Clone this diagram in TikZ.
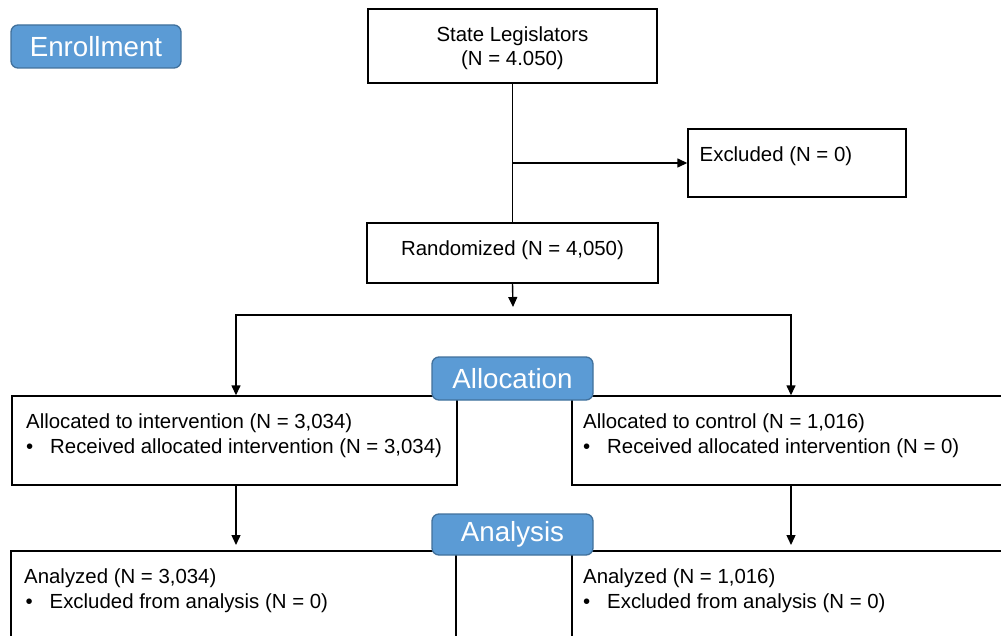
\documentclass[tikz,border=0pt]{standalone}
\usepackage{fontspec}
\setmainfont{Liberation Sans}
\usetikzlibrary{arrows.meta,calc}
\definecolor{badgefill}{HTML}{5B9BD5}
\definecolor{badgeline}{HTML}{41719C}
\begin{document}
\begin{tikzpicture}[x=1pt,y=-1pt,
  box/.style={draw=black, line width=1.4pt, inner sep=0pt},
  badge/.style={draw=badgeline, fill=badgefill, line width=1.3pt, rounded corners=7pt, text=white, font=\fontsize{27.7}{32}\selectfont, inner sep=0pt},
  txt/.style={font=\fontsize{20.4}{24}\selectfont, inner sep=0pt, text=black},
  arr/.style={line width=1.4pt, -{Triangle[length=10pt,width=9pt]}},
  ln/.style={line width=1.4pt}]
\clip (0,0) rectangle (1001,636);
\fill[white] (0,0) rectangle (1001,636);
% boxes
\node[box, minimum width=289pt, minimum height=74pt] (st) at (512.5,46) {};
\node[box, minimum width=218pt, minimum height=68pt] (ex) at (797,163) {};
\node[box, minimum width=291pt, minimum height=60pt] (rd) at (512.5,253) {};
\node[box, minimum width=445pt, minimum height=89pt] (aL) at (234.5,440.5) {};
\node[box, minimum width=460pt, minimum height=89pt] (aR) at (802,440.5) {};
\node[box, minimum width=445pt, minimum height=110pt] (nL) at (233.5,606) {};
\node[box, minimum width=460pt, minimum height=110pt] (nR) at (802,606) {};
% texts
\node[txt, anchor=base] (t1) at (512.5,42) {State Legislators};
\node[txt, anchor=base] (t2) at (512.5,66) {(N = 4.050)};
\node[txt, anchor=base west] (t3) at (699.5,162) {Excluded (N = 0)};
\node[txt, anchor=base] (t4) at (512.5,256) {Randomized (N = 4,050)};
\node[txt, anchor=base west] (t5) at (26,428) {Allocated to intervention (N = 3,034)};
\node[txt, anchor=base west] (t6) at (26,453) {\makebox[24pt][l]{•}Received allocated intervention (N = 3,034)};
\node[txt, anchor=base west] (t7) at (583,428) {Allocated to control (N = 1,016)};
\node[txt, anchor=base west] (t8) at (583,453) {\makebox[24pt][l]{•}Received allocated intervention (N = 0)};
\node[txt, anchor=base west] (t9) at (24,583) {Analyzed (N = 3,034)};
\node[txt, anchor=base west] (t10) at (25.5,608) {\makebox[24pt][l]{•}Excluded from analysis (N = 0)};
\node[txt, anchor=base west] (t11) at (583,583) {Analyzed (N = 1,016)};
\node[txt, anchor=base west] (t12) at (583,608) {\makebox[24pt][l]{•}Excluded from analysis (N = 0)};
% coordinates
\coordinate (jr) at (513,307);
\coordinate (sL) at (236,315);
\coordinate (sR) at (791,315);
\coordinate (eL) at (236,545);
\coordinate (eR) at (791,545);
% connectors
\draw[ln] (st.south) -- (rd.north);
\draw[arr] (st.south |- ex.west) -- (ex.west);
\draw[arr] (rd.south) -- (jr);
\draw[arr] (sR) -- (sL) -- (sL |- aL.north);
\draw[arr] (sL) -- (sR) -- (sR |- aR.north);
\draw[arr] (aL.south -| sL) -- (eL);
\draw[arr] (aR.south -| sR) -- (eR);
% badges
\node[badge, minimum width=170pt, minimum height=43pt] (b1) at (96,46.5) {Enrollment};
\node[badge, minimum width=161pt, minimum height=43pt] (b2) at (512.5,378.5) {Allocation};
\node[badge, minimum width=161pt, minimum height=41pt] (b3) at (512.5,534.5) {Analysis};
\end{tikzpicture}
\end{document}
